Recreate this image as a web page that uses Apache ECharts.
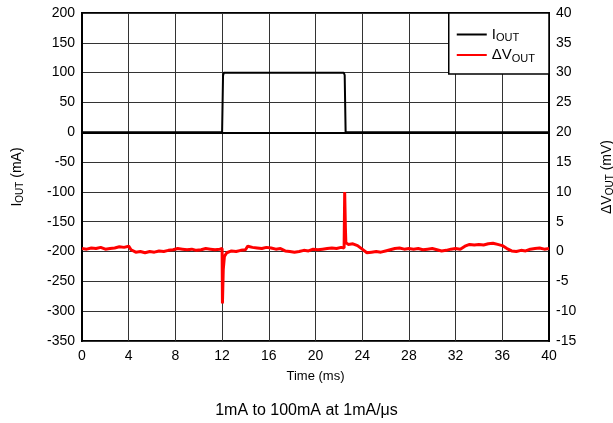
<!DOCTYPE html>
<html><head><meta charset="utf-8">
<script src="https://cdn.jsdelivr.net/npm/echarts@6/dist/echarts.min.js"></script>
<style>html,body{margin:0;padding:0;background:#fff}#c{width:613px;height:423px}</style>
</head><body><div id="c"></div>
<script>
// Time ticks (ms)
var xTicks = [0,4,8,12,16,20,24,28,32,36,40];
var leftTicks = [-350,-300,-250,-200,-150,-100,-50,0,50,100,150,200];
var rightTicks = [-15,-10,-5,0,5,10,15,20,25,30,35,40];
// IOUT (mA) trace: [time ms, mA]
var ioutTime = [0, 12.0, 12.08, 12.15, 22.42, 22.5, 22.58, 40];
var ioutVal  = [0, 0, 95, 100, 100, 96, 0, 0];
// dVOUT (mV) trace
var dvTime = [0,0.4,0.8,1.2,1.6,2.0,2.4,2.8,3.2,3.6,4.0,4.2,4.6,5.0,5.4,5.8,6.2,6.6,7.0,7.4,7.8,8.2,8.6,9.0,9.4,9.8,10.2,10.6,11.0,11.4,11.8,12.0,12.03,12.1,12.2,12.4,12.8,13.2,13.6,14.0,14.2,14.6,15.0,15.4,15.8,16.2,16.6,17.0,17.4,17.8,18.2,18.6,19.0,19.4,19.8,20.2,20.6,21.0,21.4,21.8,22.2,22.45,22.5,22.56,22.6,22.8,23.2,23.6,24.0,24.4,24.8,25.2,25.6,26.0,26.4,26.8,27.2,27.6,28.0,28.4,28.8,29.2,29.6,30.0,30.4,30.8,31.2,31.6,32.0,32.4,32.8,33.2,33.6,34.0,34.4,34.8,35.2,35.6,36.0,36.4,36.8,37.2,37.6,38.0,38.4,38.8,39.2,39.6,40];
var dvVal  = [0.5,0.4,0.6,0.5,0.7,0.4,0.5,0.6,0.8,0.7,0.9,0.3,-0.1,0.0,-0.2,0.0,-0.1,0.1,0.0,0.2,0.3,0.5,0.4,0.3,0.4,0.2,0.3,0.5,0.4,0.3,0.4,0.5,-8.7,-3.0,-0.8,-0.2,0.1,0.0,0.2,0.3,0.9,0.7,0.6,0.5,0.7,0.6,0.4,0.5,0.1,0.0,-0.1,0.0,0.2,0.1,0.4,0.3,0.4,0.5,0.6,0.5,0.7,0.6,10.0,4.0,1.5,1.2,1.3,1.0,0.4,-0.2,-0.1,0.0,-0.1,0.1,0.3,0.5,0.6,0.4,0.5,0.4,0.5,0.3,0.4,0.5,0.3,0.1,0.2,0.4,0.5,0.4,0.9,1.2,1.1,1.2,1.1,1.3,1.4,1.2,1.0,0.5,0.1,0.0,0.2,0.1,0.4,0.5,0.6,0.4,0.5];

function zip(a,b){var r=[];for(var i=0;i<a.length;i++)r.push([a[i],b[i]]);return r;}
var FONT = 'Liberation Sans, Arial, sans-serif';
var sub = {
  m:{fontSize:14,fontFamily:FONT,color:'#000'},
  s:{fontSize:10,fontFamily:FONT,color:'#000',verticalAlign:'bottom',padding:[6,0,0,0]}
};
var chart = echarts.init(document.getElementById('c'), null, {renderer:'canvas'});
chart.setOption({
  animation:false,
  backgroundColor:'#fff',
  title:{text:'1mA to 100mA at 1mA/\u03bcs',left:'center',top:398,
    textStyle:{fontSize:16,fontWeight:'normal',fontFamily:FONT,color:'#000'}},
  grid:{left:82,right:64,top:13,bottom:82,show:true,borderColor:'#000',borderWidth:2,
    backgroundColor:'transparent',containLabel:false,outerBoundsMode:'none'},
  legend:{
    data:['IOUT','dVOUT'], orient:'vertical', right:64, top:13,
    backgroundColor:'#fff', borderColor:'#000', borderWidth:1.5,
    padding:[14,14,10,8], itemGap:4, itemWidth:30, itemHeight:14,
    icon:'path://M0,6L30,6L30,8L0,8Z',
    textStyle:{fontFamily:FONT,fontSize:14,color:'#000',rich:{
      m:{fontSize:15,fontFamily:FONT,color:'#000'},
      s:{fontSize:11,fontFamily:FONT,color:'#000',padding:[7,0,0,0]}}},
    formatter:function(n){return n==='IOUT'?'{m|I}{s|OUT}':'{m|\u0394V}{s|OUT}';}
  },
  xAxis:{type:'value',min:0,max:40,interval:4,
    name:'Time (ms)',nameLocation:'middle',nameGap:29,
    nameTextStyle:{fontFamily:FONT,fontSize:13,color:'#000'},
    axisLine:{show:true,lineStyle:{color:'#000',width:2}},
    axisTick:{show:false},
    axisLabel:{fontFamily:FONT,fontSize:14,color:'#000',margin:8},
    splitLine:{show:true,lineStyle:{color:'#333',width:1}}},
  yAxis:[
    {type:'value',min:-350,max:200,interval:50,position:'left',
      name:'{m|I}{s|OUT}{m| (mA)}',nameLocation:'middle',nameGap:57,nameRotate:90,
      nameTextStyle:{rich:sub},
      axisLine:{show:true,lineStyle:{color:'#000',width:2}},
      axisTick:{show:false},
      axisLabel:{fontFamily:FONT,fontSize:14,color:'#000',margin:7},
      splitLine:{show:true,lineStyle:{color:'#333',width:1}}},
    {type:'value',min:-15,max:40,interval:5,position:'right',
      name:'{m|\u0394V}{s|OUT}{m| (mV)}',nameLocation:'middle',nameGap:50,nameRotate:90,
      nameTextStyle:{rich:sub},
      axisLine:{show:true,lineStyle:{color:'#000',width:2}},
      axisTick:{show:false},
      axisLabel:{fontFamily:FONT,fontSize:14,color:'#000',margin:7},
      splitLine:{show:false}}
  ],
  series:[
    {name:'IOUT',type:'line',yAxisIndex:0,data:zip(ioutTime,ioutVal),showSymbol:false,
      lineStyle:{color:'#000',width:2},itemStyle:{color:'#000'},z:3},
    {name:'dVOUT',type:'line',yAxisIndex:1,data:zip(dvTime,dvVal),showSymbol:false,
      lineStyle:{color:'#ff0000',width:3},itemStyle:{color:'#ff0000'},z:4}
  ]
});
</script></body></html>
